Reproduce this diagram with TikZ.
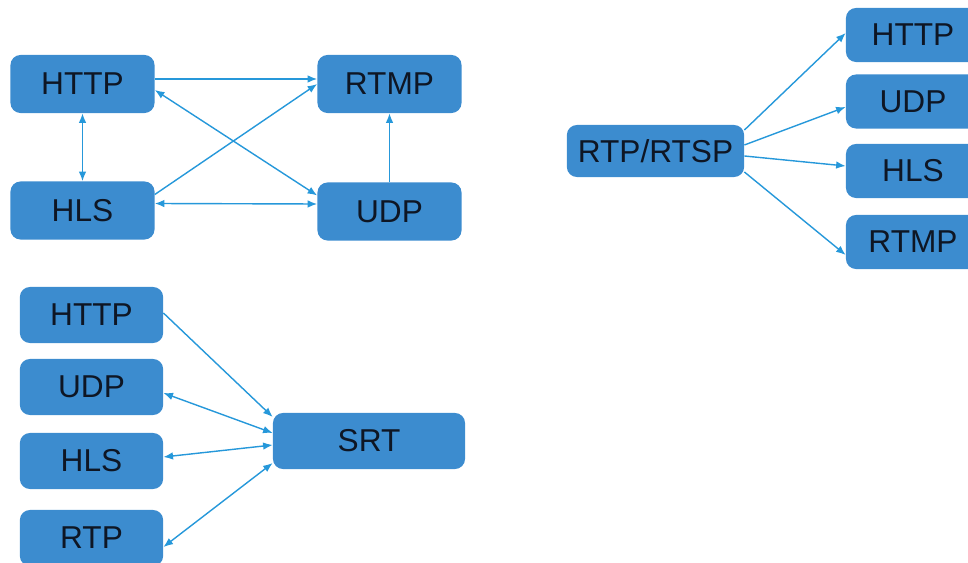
\documentclass[tikz,border=0pt]{standalone}
\usepackage{fontspec}
\setmainfont{Liberation Sans}
\usetikzlibrary{arrows.meta,calc}
\definecolor{boxblue}{RGB}{60,140,207}
\definecolor{linkblue}{RGB}{38,152,218}
\definecolor{labelink}{RGB}{14,22,36}
\begin{document}
\begin{tikzpicture}[x=0.025cm, y=-0.025cm,
    protocol/.style ={rectangle, rounded corners=0.25cm, fill=boxblue, text=labelink, inner sep=0pt,
      minimum width=3.6cm, minimum height=1.45cm, font=\fontsize{22.5}{27}\selectfont},
    link/.style ={draw=linkblue, line width=1pt, -{Latex[length=2.4mm,width=1.9mm]}},
    biglink/.style ={link, {Latex[length=2.4mm,width=1.9mm]}-{Latex[length=2.4mm,width=1.9mm]}}]
   \useasboundingbox (0,0) rectangle (968,563);
   \clip (0,0) rectangle (968,563);
   % top left
   \node[protocol] (A)  at (82.5,84)  {HTTP};
   \node[protocol] (B)  at (389.5,84)  {RTMP};
   \node[protocol] (C)  at (82.5,210.5)  {HLS};
   \node[protocol] (D)  at (389.5,211.5)  {UDP};
   \draw[link] ($(A.east)+(0,-5)$) -- ($(B.west)+(0,-5)$);
   \draw[biglink] (A) -- (C);
   \draw[link] ($(C.east)+(0,-16)$) -- (B.west);
   \draw[biglink] ($(A.east)+(0,6)$) -- ($(D.west)+(0,-16)$);
   \draw[link] (D) -- (B);
   \draw[biglink] ($(C.east)+(0,-7)$) -- ($(D.west)+(0,-7.5)$);
   % top right
   \node[protocol, minimum width=4.43cm, minimum height=1.3cm] (E)  at (655.5,151)  {RTP/RTSP};
   \node[protocol, minimum width=3.35cm, minimum height=1.35cm] (F)  at (913,35)  {HTTP};
   \node[protocol, minimum width=3.35cm, minimum height=1.35cm] (G)  at (913,101.5)  {UDP};
   \node[protocol, minimum width=3.35cm, minimum height=1.35cm] (H)  at (913,171)  {HLS};
   \node[protocol, minimum width=3.35cm, minimum height=1.35cm] (I)  at (913,242)  {RTMP};
   \draw[link] ($(E.east)+(0,-21)$) -- ($(F.west)+(0,-2)$);
   \draw[link] ($(E.east)+(0,-6)$) -- ($(G.west)+(0,5.5)$);
   \draw[link] ($(E.east)+(0,5)$) -- ($(H.west)+(0,-5)$);
   \draw[link] ($(E.east)+(0,21)$) -- ($(I.west)+(0,13)$);
   % bottom left
   \node[protocol, minimum width=3.58cm, minimum height=1.4cm] (J)  at (91.5,315)  {HTTP};
   \node[protocol, minimum width=3.58cm, minimum height=1.4cm] (K)  at (91.5,387)  {UDP};
   \node[protocol, minimum width=3.58cm, minimum height=1.4cm] (L)  at (91.5,461)  {HLS};
   \node[protocol, minimum width=3.58cm, minimum height=1.4cm] (M)  at (91.5,538)  {RTP};
   \node[protocol, minimum width=4.8cm, minimum height=1.4cm] (N)  at (369,441)  {SRT};
   \draw[link] ($(J.east)+(0,-2)$) -- ($(N.west)+(0,-24)$);
   \draw[biglink] ($(K.east)+(0,6)$) -- ($(N.west)+(0,-8)$);
   \draw[biglink] ($(L.east)+(0,-4)$) -- ($(N.west)+(0,4)$);
   \draw[biglink] ($(M.east)+(0,9)$) -- ($(N.west)+(0,22)$);
 \end{tikzpicture}
\end{document}
